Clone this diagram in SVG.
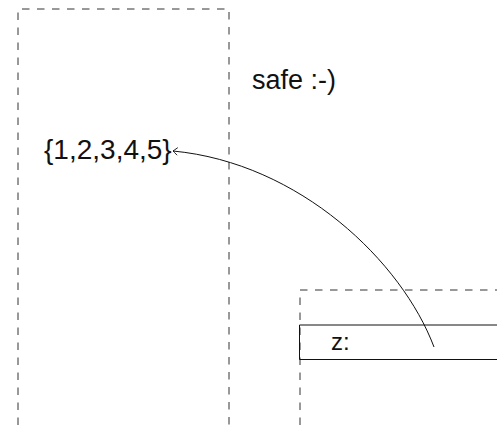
<svg xmlns="http://www.w3.org/2000/svg" width="497" height="430" viewBox="0 0 497 430">
  <style>
    .dash { fill: none; stroke: #333; stroke-width: 1; stroke-dasharray: 7.5 7.5; }
    .solid { fill: none; stroke: #111; stroke-width: 1; }
    .lbl { font-family: "Liberation Sans", Arial, sans-serif; fill: #111; }
    .conn { fill: none; stroke: #111; stroke-width: 1; }
  </style>
  <defs>
    <marker id="to" viewBox="-6 -5 8 10" markerWidth="8" markerHeight="10" refX="0" refY="0" orient="auto" markerUnits="userSpaceOnUse">
      <path d="M -4.5 -3.8 Q -1.2 -1 0 0 Q -1.2 1 -4.5 3.8" fill="none" stroke="#111" stroke-width="0.9"/>
    </marker>
  </defs>
  <rect width="497" height="430" fill="#fff"/>
  <g id="stack-frame">
    <path class="dash" d="M 18 440 L 18 9 L 229 9 L 229 440"/>
  </g>
  <g id="set-value">
    <text class="lbl" x="44" y="159" font-size="28">{1,2,3,4,5}</text>
  </g>
  <g id="safe-label">
    <text class="lbl" x="252" y="89" font-size="27">safe :-)</text>
  </g>
  <g id="heap-frame">
    <path class="dash" d="M 300 440 L 300 290 L 505 290"/>
  </g>
  <g id="var-z">
    <path class="solid" d="M 505 325 L 299.5 325 L 299.5 359.5 L 505 359.5"/>
    <text class="lbl" x="331" y="350" font-size="24">z:</text>
  </g>
  <g id="connectors">
    <path class="conn" d="M 434 347 C 402 262 300 163 173 151" marker-end="url(#to)"/>
  </g>
</svg>
